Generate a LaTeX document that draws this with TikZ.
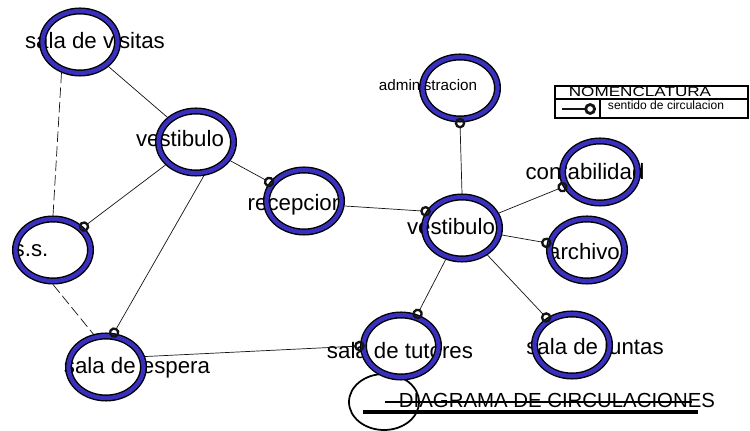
\documentclass[tikz,border=0pt]{standalone}
\usepackage{fontspec}
\setmainfont{Liberation Sans}
\usepackage{tikz}
\usetikzlibrary{shapes.geometric, arrows.meta}
\definecolor{ringblue}{RGB}{58,48,190}
\definecolor{mydark}{RGB}{20,20,20}
\tikzset{
  ring/.style={ellipse, draw=black, line width=1.2pt, double=ringblue,
    double distance=3.6pt, minimum width=2.25cm, minimum height=1.86cm,
    inner sep=0pt, outer sep=3pt},
  titlering/.style={ellipse, draw=black, line width=1.5pt,
    minimum width=2.1cm, minimum height=1.68cm, inner sep=0pt},
  lbl/.style={anchor=base, inner sep=0pt, font=\fontsize{19}{21}\selectfont},
  smalllbl/.style={anchor=base, inner sep=0pt, font=\fontsize{13}{15}\selectfont},
  titlelbl/.style={anchor=base, inner sep=0pt, font=\fontsize{17.4}{19}\selectfont},
  leglbl/.style={anchor=base, inner sep=0pt, font=\fontsize{11.5}{13}\selectfont, xscale=1.27},
  legsmall/.style={anchor=base, inner sep=0pt, font=\fontsize{10.3}{12}\selectfont},
  flow/.style={-{Circle[open, length=9pt, line width=2pt]}, shorten >=-4pt,
    line width=0.6pt, color=mydark},
  link/.style={line width=0.6pt, color=mydark},
  dlink/.style={link, dash pattern=on 9pt off 3.5pt},
  legline/.style={line width=1.6pt, color=black}
}

\begin{document}
\begin{tikzpicture}[x=0.03cm, y=-0.03cm]
  \useasboundingbox (0,0) rectangle (750,431);
  \fill[white] (0,0) rectangle (750,431);

  \node[lbl] (t-visitas) at (95,49) {sala de visitas};
  \node[lbl] (t-vestA) at (180,147) {vestibulo};
  \node[lbl] (t-ss) at (31,257) {s.s.};
  \node[lbl] (t-espera) at (137,374) {sala de espera};
  \node[lbl] (t-recep) at (296,211) {recepcion};
  \node[lbl] (t-vestB) at (451,235) {vestibulo};
  \node[smalllbl] (t-admin) at (428,91) {administracion};
  \node[lbl] (t-conta) at (585,180) {contabilidad};
  \node[lbl] (t-archivo) at (584,260) {archivo};
  \node[lbl] (t-juntas) at (595,355) {sala de juntas};
  \node[lbl] (t-tutores) at (400,359) {sala de tutores};

  \node[titlering] (titulo) at (384,402) {};
  \node[titlelbl] (t-titulo) at (557,408) {DIAGRAMA DE CIRCULACIONES};
  \draw[line width=1.2pt] (385,402) -- (692,402);
  \draw[line width=2.6pt] (363,412) -- (698,412);

  \node[ring] (visitas) at (80,42) {};
  \node[ring] (vestA) at (196,142) {};
  \node[ring] (ss) at (53,250) {};
  \node[ring] (espera) at (106,367) {};
  \node[ring] (recep) at (304,201) {};
  \node[ring] (vestB) at (462,228) {};
  \node[ring] (admin) at (460,88) {};
  \node[ring] (conta) at (600,172) {};
  \node[ring] (archivo) at (587,250) {};
  \node[ring] (juntas) at (572,345) {};
  \node[ring] (tutores) at (401,346) {};

  \draw[link] (visitas) -- (vestA);
  \draw[dlink] (visitas.239) -- (ss.north);
  \draw[dlink] (ss.south) -- (espera.111);
  \draw[flow] (vestA) -- (ss);
  \draw[flow] (vestA.283) -- (espera.77);
  \draw[flow] (vestA) -- (recep);
  \draw[flow] (recep.353) -- (vestB.155);
  \draw[flow] (vestB.north) -- (admin.south);
  \draw[flow] (vestB) -- (conta);
  \draw[flow] (vestB) -- (archivo);
  \draw[flow] (vestB) -- (juntas);
  \draw[flow] (vestB) -- (tutores);
  \draw[flow] (espera.15) -- (tutores.west);

  \draw[legline] (555,86) rectangle (748,118);
  \draw[legline] (555,99) -- (748,99);
  \draw[legline] (600,99) -- (600,118);
  \node[leglbl] (t-nomen) at (640,97) {NOMENCLATURA};
  \node[legsmall] (t-sentido) at (666,110) {sentido de circulacion};
  \coordinate (sym-a) at (562,109);
  \coordinate (sym-b) at (596,109);
  \draw[flow, line width=2pt, shorten >=0pt,
    -{Circle[open, length=10pt, line width=2.4pt]}] (sym-a) -- (sym-b);
\end{tikzpicture}
\end{document}
